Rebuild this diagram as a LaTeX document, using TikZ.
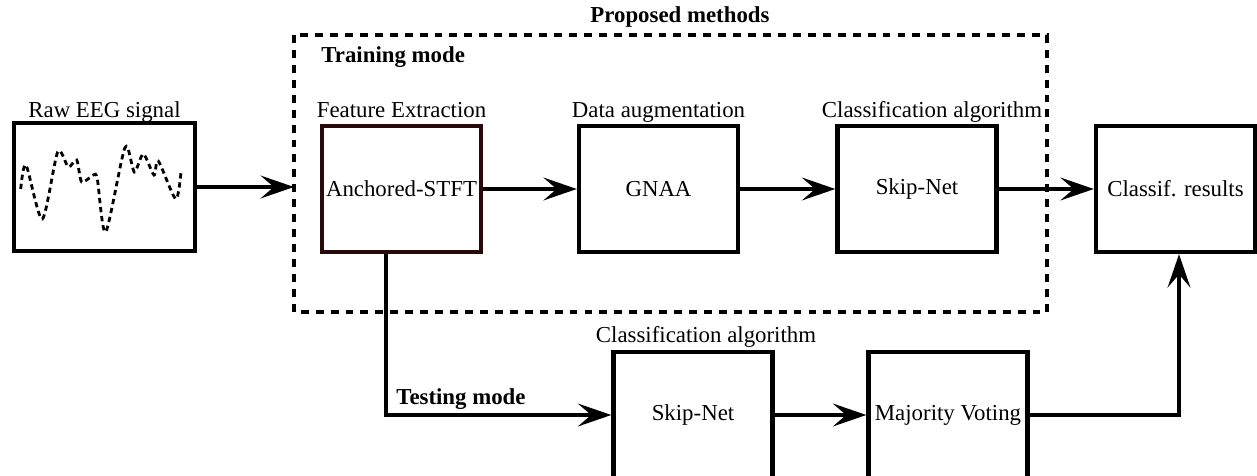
\documentclass[tikz,border=0pt]{standalone}
\usepackage{fontspec}
\setmainfont{Liberation Serif}
\usetikzlibrary{arrows.meta}

\definecolor{darkrim}{RGB}{40,10,10}

\tikzset{
  block/.style={draw, line width=2.5pt, minimum width=3.18cm, minimum height=2.52cm,
    inner sep=0pt, font=\fontsize{13}{15}\selectfont},
  tag/.style={font=\fontsize{13}{15}\selectfont, inner sep=0pt, anchor=base},
  boldtag/.style={tag, font=\fontsize{13}{15}\selectfont\bfseries},
  flow/.style={line width=2.1pt, -{Stealth[length=19pt, width=13pt, inset=7.5pt]}},
}

\begin{document}
\begin{tikzpicture}[x=0.02cm, y=-0.02cm]
   \useasboundingbox (0,0) rectangle (1257,476);

   % proposed methods frame
   \draw[line width=2.3pt, dash pattern=on 4.5pt off 4pt] (294,35) rectangle (1047,312);
   \coordinate (framein) at (294,187);
   \node[boldtag] (prop) at (680,23) {Proposed methods};
   \node[boldtag, anchor=base west] (train) at (321,63) {Training mode};

   % signal source
   \node[block, minimum width=3.62cm, minimum height=2.56cm] (eeg) at (104.5,187) {};
   \node[tag] (eeglbl) at (104.5,118) {Raw EEG signal};
   \draw[line width=1.6pt, dash pattern=on 3pt off 2.2pt]
      plot[smooth, tension=0.45] coordinates {(20.7,189) (26,165) (42.3,219) (57.7,152)
      (68.3,167) (76.7,160) (81.7,182) (93.3,175) (97.3,179) (105.7,232) (125,147.5)
      (134.3,172) (143.3,154) (154,175) (158.3,161) (175.7,199) (181,172)};

   % training chain
   \node[block, draw=darkrim] (stft) at (401.5,189) {Anchored-STFT};
   \node[block] (gnaa) at (658.5,189) {GNAA};
   \node[block] (skip) at (917,189) {Skip-Net};
   \node[block] (res) at (1175.5,189) {Classif. results};
   \node[tag] (stftlbl) at (401.5,118) {Feature Extraction};
   \node[tag] (gnaalbl) at (658.5,118) {Data augmentation};
   \node[tag] (skiplbl) at (932,118) {Classification algorithm};

   % testing chain
   \node[block] (skiptest) at (693,415) {Skip-Net};
   \node[block] (vote) at (948,415) {Majority Voting};
   \node[tag] (testlbl) at (706,342) {Classification algorithm};
   \node[boldtag, anchor=base west] (test) at (396,404) {Testing mode};

   \draw[flow] (eeg.east) -- (framein);
   \draw[flow] (stft.east) -- (gnaa.west);
   \draw[flow] (gnaa.east) -- (skip.west);
   \draw[flow] (skip.east) -- (res.west);
   \draw[flow] ([xshift=-0.31cm]stft.south) |- (skiptest.west);
   \draw[flow] (skiptest.east) -- (vote.west);
   \draw[flow] (vote.east) -| ([xshift=0.07cm]res.south);
\end{tikzpicture}
\end{document}
